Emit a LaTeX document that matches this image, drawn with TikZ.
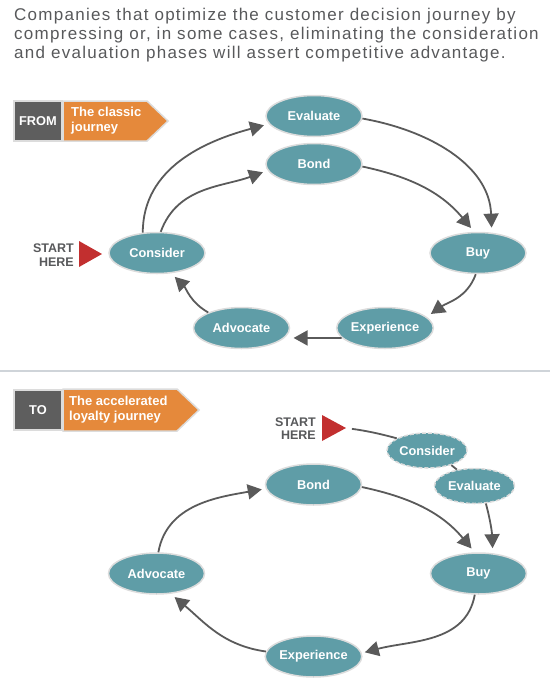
\documentclass[tikz,border=0pt]{standalone}
\usepackage{fontspec}
\setmainfont{Liberation Sans}
\newfontfamily\headfont[LetterSpace=7.5]{Liberation Sans}
\usetikzlibrary{shapes.geometric,arrows.meta}
\definecolor{stagefill}{RGB}{95,157,167}
\definecolor{stageline}{RGB}{220,220,220}
\definecolor{flowgrey}{RGB}{90,90,90}
\definecolor{taggrey}{RGB}{94,94,94}
\definecolor{tagorange}{RGB}{229,137,59}
\definecolor{startred}{RGB}{194,47,47}
\definecolor{headgrey}{RGB}{88,89,91}
\definecolor{sepgrey}{RGB}{207,212,217}
\tikzset{
	stage/.style={ellipse,fill=stagefill,draw=stageline,line width=1.5pt,minimum width=96pt,minimum height=41pt,inner sep=0pt,text=white,font=\bfseries\fontsize{12.8}{14}\selectfont},
	skipped/.style={stage,dash pattern=on 4pt off 2pt,minimum width=80pt,minimum height=35pt},
	flow/.style={-{Triangle[length=14pt,width=15pt]},draw=flowgrey,line width=1.8pt,shorten >=5pt},
	connect/.style={draw=flowgrey,line width=1.8pt},
	tagname/.style={fill=taggrey,draw=stageline,line width=1.5pt,minimum width=48pt,minimum height=40pt,inner sep=0pt,text=white,font=\bfseries\fontsize{12.8}{15}\selectfont},
	tagarrow/.style={fill=tagorange,draw=stageline,line width=1.5pt},
	tagtext/.style={anchor=west,inner sep=0pt,align=left,text=white,font=\bfseries\fontsize{13}{15}\selectfont},
	starttext/.style={anchor=east,inner sep=0pt,align=right,text=headgrey,font=\bfseries\fontsize{12.5}{13.5}\selectfont}
}
\begin{document}
\begin{tikzpicture}[x=1pt,y=1pt]
	\useasboundingbox (0,0) rectangle (554,-686);
	\node[anchor=north west,inner sep=0pt,align=left,text=headgrey,font=\headfont\fontsize{17}{19}\selectfont] (head) at (14,-7.6) {Companies that optimize the customer decision journey by\\compressing or, in some cases, eliminating the consideration\\and evaluation phases will assert competitive advantage.};
	\filldraw[tagarrow] (63,-101)--(147,-101)--(168,-121)--(147,-141)--(63,-141)--cycle;
	\node[tagname] (from) at (38,-121) {FROM};
	\node[tagtext] (classic) at (71,-121) {The classic\\journey};
	\node[starttext] (startA) at (74,-255) {START\\HERE};
	\fill[startred] (79,-241)--(102,-254)--(79,-267)--cycle;
	\node[stage] (evaluate) at (314,-116) {Evaluate};
	\node[stage] (bond) at (314,-164) {Bond};
	\node[stage] (buy) at (478,-253) {Buy};
	\node[stage] (consider) at (157,-253) {Consider};
	\node[stage] (experience) at (385,-328) {Experience};
	\node[stage] (advocate) at (241.5,-328) {Advocate};
	\draw[flow] (evaluate.-3) to[out=-10,in=92] (buy.56);
	\draw[flow] (bond.-3) to[out=-12,in=130] (buy.100);
	\draw[flow] (consider.125) to[out=90,in=195] (evaluate.190);
	\draw[flow] (consider.80) to[out=70,in=200] (bond.188);
	\draw[flow] (buy.-96) to[out=-110,in=35] (experience.15);
	\draw[flow,shorten >=9pt] (experience.193)--(advocate.-13);
	\draw[flow] (advocate.155) to[out=150,in=-45] (consider.-55);
	\draw[sepgrey,line width=1.5pt] (0,-371)--(550,-371);
	\filldraw[tagarrow] (63,-389)--(177,-389)--(199,-410)--(177,-431)--(63,-431)--cycle;
	\node[tagname] (to) at (38,-410) {TO};
	\node[tagtext] (loyalty) at (69,-410) {The accelerated\\loyalty journey};
	\node[starttext] (startB) at (316,-428.5) {START\\HERE};
	\fill[startred] (322,-415)--(346,-428)--(322,-441)--cycle;
	\coordinate (starttip) at (346,-428);
	\node[stage] (bondB) at (313.5,-484.5) {Bond};
	\node[stage] (buyB) at (478.5,-573.5) {Buy};
	\node[stage] (advocateB) at (156.5,-573.5) {Advocate};
	\node[stage] (experienceB) at (313.5,-656.5) {Experience};
	\node[skipped] (considerB) at (427,-450.5) {Consider};
	\node[skipped] (evaluateB) at (474.5,-486) {Evaluate};
	\draw[connect,shorten <=6pt] (starttip) to[out=-8,in=165] (considerB.158);
	\draw[connect] (considerB.-31)--(evaluateB.137);
	\draw[flow] (evaluateB.-57) to[out=-75,in=92] (buyB.55);
	\draw[flow] (bondB.-3) to[out=-12,in=130] (buyB.100);
	\draw[flow,shorten >=3pt] (buyB.-100) to[out=-100,in=15] (experienceB.4);
	\draw[flow] (experienceB.174) to[out=172,in=-40] (advocateB.-55);
	\draw[flow,shorten >=4pt] (advocateB.85) to[out=80,in=190] (bondB.185);
\end{tikzpicture}
\end{document}
